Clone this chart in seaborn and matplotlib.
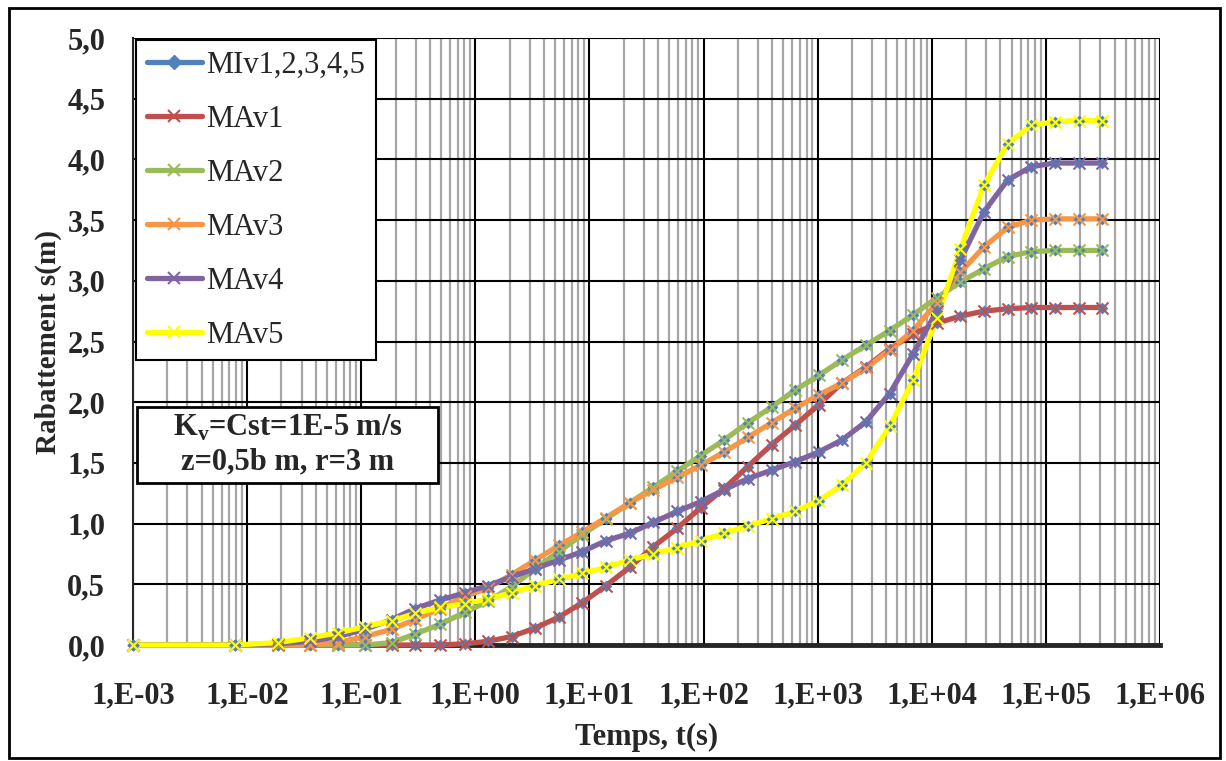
import numpy as np
import pandas as pd
import matplotlib
matplotlib.use("Agg")
import matplotlib.pyplot as plt
import seaborn as sns
from matplotlib.lines import Line2D
from matplotlib.patches import Rectangle
from matplotlib.ticker import FixedLocator, LogLocator, FuncFormatter

# time steps (s)
times = [0.001, 0.0078, 0.0187, 0.0356, 0.0626, 0.108, 0.186, 0.296, 0.49, 0.81,
         1.29, 2.08, 3.35, 5.4, 8.69, 14.0, 22.5, 36.3, 58.5, 94.2,
         152, 244, 394, 634, 1021, 1644, 2649, 4266, 6871, 11066,
         17824, 28708, 46238, 74473, 119950, 193197, 311170]

mav1 = [0, 0, 0, 0, 0, 0, 0, 0, 0, 0.01,
        0.03, 0.07, 0.14, 0.23, 0.35, 0.49, 0.64, 0.81, 0.96, 1.13,
        1.29, 1.47, 1.65, 1.81, 1.98, 2.16, 2.29, 2.44, 2.56, 2.65,
        2.71, 2.75, 2.77, 2.78, 2.78, 2.78, 2.78]
mav2 = [0, 0, 0, 0, 0, 0, 0.02, 0.09, 0.17, 0.27,
        0.36, 0.48, 0.63, 0.77, 0.91, 1.04, 1.17, 1.30, 1.43, 1.56,
        1.69, 1.83, 1.96, 2.10, 2.22, 2.35, 2.47, 2.59, 2.72, 2.86,
        2.99, 3.10, 3.20, 3.24, 3.25, 3.25, 3.25]
mav3 = [0, 0, 0, 0, 0.02, 0.07, 0.13, 0.21, 0.30, 0.40,
        0.47, 0.58, 0.70, 0.82, 0.93, 1.05, 1.17, 1.28, 1.38, 1.48,
        1.59, 1.71, 1.83, 1.95, 2.06, 2.16, 2.28, 2.43, 2.59, 2.82,
        3.07, 3.28, 3.44, 3.50, 3.51, 3.51, 3.51]
mav4 = [0, 0, 0.01, 0.03, 0.07, 0.13, 0.21, 0.30, 0.37, 0.43,
        0.49, 0.56, 0.63, 0.70, 0.77, 0.86, 0.92, 1.01, 1.10, 1.18,
        1.28, 1.37, 1.44, 1.51, 1.59, 1.69, 1.84, 2.07, 2.40, 2.75,
        3.17, 3.57, 3.83, 3.94, 3.97, 3.97, 3.97]
mav5 = [0, 0, 0.02, 0.06, 0.10, 0.15, 0.20, 0.26, 0.31, 0.34,
        0.38, 0.43, 0.49, 0.54, 0.59, 0.64, 0.70, 0.75, 0.80, 0.86,
        0.92, 0.98, 1.04, 1.10, 1.19, 1.32, 1.50, 1.80, 2.18, 2.69,
        3.26, 3.79, 4.13, 4.28, 4.31, 4.32, 4.32]

series_names = ["MAv1", "MAv2", "MAv3", "MAv4", "MAv5"]
series_vals = [mav1, mav2, mav3, mav4, mav5]
colors = ["#C0504D", "#9BBB59", "#F79646", "#8064A2", "#FFFF00"]
blue = "#4F81BD"

xtick_vals = [1e-3, 1e-2, 1e-1, 1e0, 1e1, 1e2, 1e3, 1e4, 1e5, 1e6]
xtick_labels = ["1,E-03", "1,E-02", "1,E-01", "1,E+00", "1,E+01",
                "1,E+02", "1,E+03", "1,E+04", "1,E+05", "1,E+06"]

sns.set_style("white")
plt.rcParams["font.family"] = ["Liberation Serif", "DejaVu Serif"]
plt.rcParams["mathtext.fontset"] = "custom"
plt.rcParams["mathtext.rm"] = "Liberation Serif"
plt.rcParams["mathtext.bf"] = "Liberation Serif:bold"

fig = plt.figure(figsize=(12.26, 7.61), dpi=100)
ax = fig.add_axes([133 / 1226, 1 - 645 / 761, 1027 / 1226, 607 / 761])

df = pd.DataFrame({"t": times})
for name, vals in zip(series_names, series_vals):
    df[name] = vals

for name, c in zip(series_names, colors):
    sns.lineplot(data=df, x="t", y=name, color=c, lw=3.8, ax=ax, zorder=3,
                 sort=False, estimator=None, clip_on=False)
for name in series_names:
    sns.scatterplot(data=df, x="t", y=name, marker="D", s=36, color=blue,
                    edgecolor=blue, linewidth=0, ax=ax, zorder=4, clip_on=False)
for name, c in zip(series_names, colors):
    sns.scatterplot(data=df, x="t", y=name, marker="x", s=75, color=c,
                    linewidth=1.5, ax=ax, zorder=5, clip_on=False)

ax.set_xscale("log")
ax.set_xlim(1e-3, 1e6)
ax.set_ylim(0, 5)

ax.xaxis.set_major_locator(FixedLocator(xtick_vals))
ax.set_xticklabels(xtick_labels)
ax.xaxis.set_minor_locator(LogLocator(base=10, subs=np.arange(2, 10), numticks=100))
ax.set_yticks(np.arange(0, 5.01, 0.5))
ax.yaxis.set_major_formatter(FuncFormatter(lambda v, p: f"{v:.1f}".replace(".", ",")))

ax.grid(which="minor", axis="x", color="#A6A6A6", lw=1.6, zorder=0)
ax.grid(which="major", axis="x", color="black", lw=1.5, zorder=1)
ax.grid(which="major", axis="y", color="black", lw=1.5, zorder=1)
ax.set_axisbelow(True)

for side in ["top", "right"]:
    ax.spines[side].set_visible(False)
ax.spines["left"].set_linewidth(1.5)
ax.spines["bottom"].set_linewidth(3.5)
ax.spines["bottom"].set_zorder(2.5)

ax.tick_params(axis="x", which="major", direction="out", length=8, width=1.5,
               pad=18, labelsize=22)
ax.tick_params(axis="x", which="minor", length=0)
ax.tick_params(axis="y", length=0, pad=20, labelsize=22)
for lab in ax.get_xticklabels() + ax.get_yticklabels():
    lab.set_fontweight("bold")

ax.set_xlabel("Temps, t(s)", fontsize=22, fontweight="bold", labelpad=9)
ax.set_ylabel("Rabattement s(m)", fontsize=21, fontweight="bold", labelpad=4)

handles = [Line2D([], [], color=blue, lw=3.8, marker="D", markersize=7)]
handles += [Line2D([], [], color=c, lw=3.8, marker="x", markersize=9, mew=1.5)
            for c in colors]
labels = ["MIv1,2,3,4,5"] + series_names
leg = ax.legend(handles, labels, loc="upper left", bbox_to_anchor=(0.003, 0.997),
                fontsize=22, frameon=True, fancybox=False, edgecolor="black",
                framealpha=1, handlelength=1.8, handletextpad=0.15,
                labelspacing=0.82, borderpad=0.35, borderaxespad=0, numpoints=1)
leg.get_frame().set_linewidth(1.5)
leg.set_zorder(10)

# annotation box
ax.add_patch(Rectangle((4 / 1027, 162 / 607), 301 / 1027, 76 / 607,
                       transform=ax.transAxes, facecolor="white",
                       edgecolor="black", lw=2, zorder=9, clip_on=False))
ax.text(155 / 1027, 200 / 607, "K$_\\mathbf{v}$=Cst=1E-5 m/s\nz=0,5b m, r=3 m",
        transform=ax.transAxes, ha="center", va="center", fontsize=22,
        fontweight="bold", linespacing=1.2, zorder=10)

fig.patches.append(Rectangle((0.007, 0.004), 0.988, 0.985, transform=fig.transFigure,
                             fill=False, edgecolor="black", linewidth=2))

fig.savefig("out.png", dpi=100)
